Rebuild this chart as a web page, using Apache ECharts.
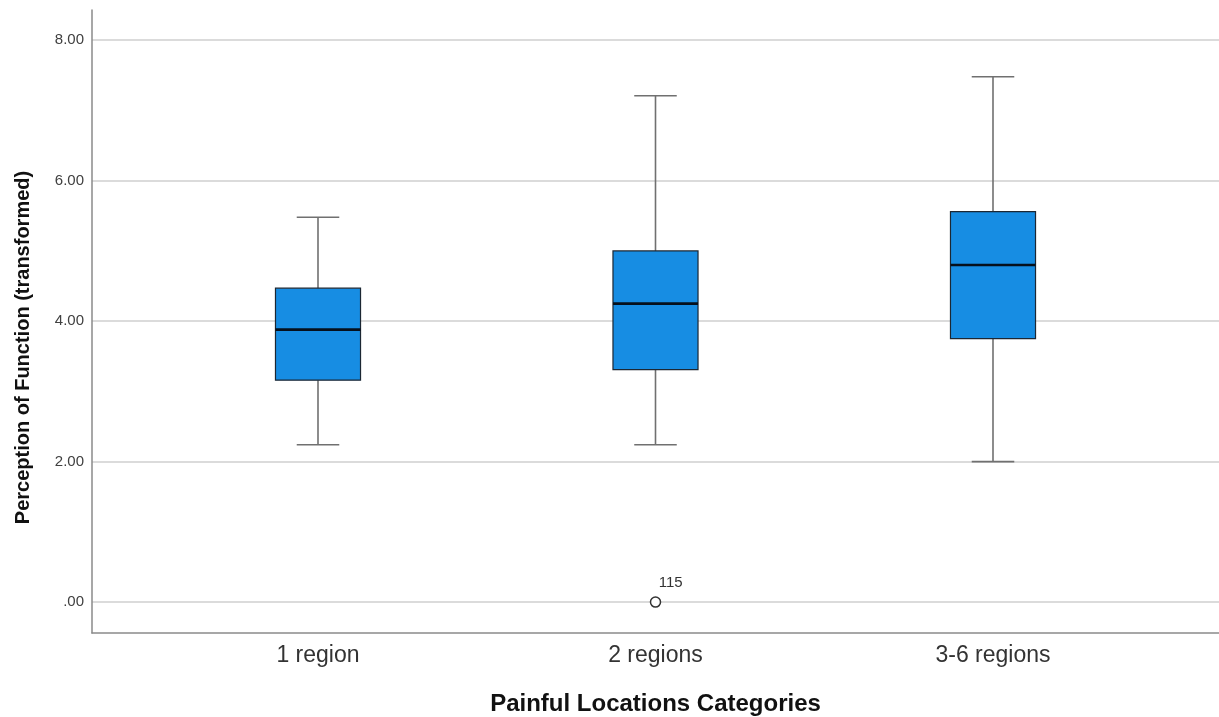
<!DOCTYPE html>
<html><head><meta charset="utf-8">
<script src="https://cdn.jsdelivr.net/npm/echarts@6/dist/echarts.min.js"></script>
<style>html,body{margin:0;padding:0;background:#fff}#c{width:1219px;height:717px}</style>
</head><body><div id="c"></div>
<script>
// ---- data ----
const categories = ['1 region', '2 regions', '3-6 regions'];
const whiskerLow  = [2.24, 2.24, 2.00];
const q1          = [3.16, 3.31, 3.75];
const medians     = [3.88, 4.25, 4.80];
const q3          = [4.47, 5.00, 5.56];
const whiskerHigh = [5.48, 7.21, 7.48];
const outlierCategory = [1];
const outlierValues   = [0.00];
const outlierLabels   = ['115'];
const yMin = -0.44, yMax = 8.43;

const FONT = "'Liberation Sans', Arial, sans-serif";
const boxData = categories.map((c, i) => [i, whiskerLow[i], q1[i], medians[i], q3[i], whiskerHigh[i]]);
const outlierData = outlierCategory.map((c, i) => [c, outlierValues[i], outlierLabels[i]]);

const chart = echarts.init(document.getElementById('c'), null, {renderer: 'canvas'});
chart.setOption({
  backgroundColor: '#ffffff',
  animation: false,
  grid: [
    {left: 92, right: 0, top: 10, bottom: 84, containLabel: false, outerBoundsMode: 'none'},
    {left: 149.25, right: 57.25, top: 10, bottom: 84, containLabel: false, outerBoundsMode: 'none'}
  ],
  xAxis: [
    {
      gridIndex: 0, type: 'value', min: 0, max: 1,
      axisLine: {show: true, onZero: false, lineStyle: {color: '#8a8a8a', width: 1.5}},
      axisTick: {show: false}, axisLabel: {show: false}, splitLine: {show: false},
      name: 'Painful Locations Categories', nameLocation: 'middle', nameGap: 59,
      nameTextStyle: {fontFamily: FONT, fontWeight: 'bold', fontSize: 24, color: '#111'}
    },
    {
      gridIndex: 1, type: 'category', data: categories,
      axisLine: {show: false}, axisTick: {show: false}, splitLine: {show: false},
      axisLabel: {fontFamily: FONT, fontSize: 23, color: '#333', margin: 11}
    }
  ],
  yAxis: [
    {
      gridIndex: 0, type: 'value', min: yMin, max: yMax,
      axisLine: {show: true, onZero: false, lineStyle: {color: '#8a8a8a', width: 1.5}},
      axisTick: {show: false},
      axisLabel: {
        fontFamily: FONT, fontSize: 15, color: '#404040', margin: 8,
        showMinLabel: false, showMaxLabel: false,
        formatter: v => (Math.abs(v) < 1e-9 ? '.00' : v.toFixed(2))
      },
      splitLine: {show: true, showMinLine: false, showMaxLine: false, lineStyle: {color: '#cfcfcf', width: 1.5}},
      name: 'Perception of Function (transformed)', nameLocation: 'middle', nameGap: 59, nameRotate: 90,
      nameTextStyle: {fontFamily: FONT, fontWeight: 'bold', fontSize: 20, color: '#111', padding: [0, 52, 0, 0]}
    },
    {
      gridIndex: 1, type: 'value', min: yMin, max: yMax, show: false,
      splitLine: {show: false}
    }
  ],
  series: [
    {
      type: 'custom', xAxisIndex: 1, yAxisIndex: 1,
      data: boxData,
      encode: {x: 0, y: [1, 2, 3, 4, 5]},
      renderItem: function (params, api) {
        const idx = api.value(0);
        const pLo = api.coord([idx, api.value(1)]);
        const pQ1 = api.coord([idx, api.value(2)]);
        const pMed = api.coord([idx, api.value(3)]);
        const pQ3 = api.coord([idx, api.value(4)]);
        const pHi = api.coord([idx, api.value(5)]);
        const band = api.size([1, 0])[0];
        const half = band * 0.126;
        const cap = half / 2;
        const cx = pMed[0];
        const w = {stroke: '#707070', lineWidth: 1.6};
        return {
          type: 'group',
          children: [
            {type: 'line', shape: {x1: cx, y1: pHi[1], x2: cx, y2: pQ3[1]}, style: w},
            {type: 'line', shape: {x1: cx, y1: pQ1[1], x2: cx, y2: pLo[1]}, style: w},
            {type: 'line', shape: {x1: cx - cap, y1: pHi[1], x2: cx + cap, y2: pHi[1]}, style: w},
            {type: 'line', shape: {x1: cx - cap, y1: pLo[1], x2: cx + cap, y2: pLo[1]}, style: w},
            {type: 'rect', shape: {x: cx - half, y: pQ3[1], width: 2 * half, height: pQ1[1] - pQ3[1]},
              style: {fill: '#178de3', stroke: '#1c2733', lineWidth: 1.2}},
            {type: 'line', shape: {x1: cx - half, y1: pMed[1], x2: cx + half, y2: pMed[1]},
              style: {stroke: '#06101c', lineWidth: 2.6}}
          ]
        };
      }
    },
    {
      type: 'scatter', xAxisIndex: 1, yAxisIndex: 1,
      data: outlierData,
      symbol: 'circle', symbolSize: 10,
      itemStyle: {color: '#ffffff', borderColor: '#333', borderWidth: 1.5, opacity: 1},
      label: {
        show: true, position: [9, -21], fontFamily: FONT, fontSize: 15, color: '#333',
        formatter: p => p.value[2]
      }
    }
  ]
});
</script>
</body></html>
